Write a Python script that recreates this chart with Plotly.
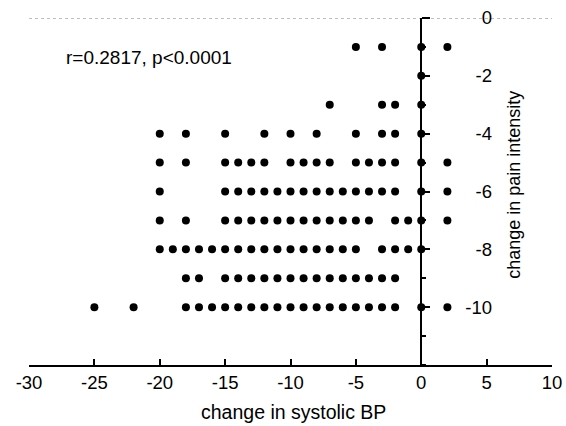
import plotly.graph_objects as go

# change in pain intensity (rows) and the change in systolic BP values observed at each
pain_levels = [-1, -2, -3, -4, -5, -6, -7, -8, -9, -10]
bp_row_m1 = [-5, -3, 0, 2]
bp_row_m2 = [0]
bp_row_m3 = [-7, -3, -2, 0]
bp_row_m4 = [-20, -18, -15, -12, -10, -8, -5, -3, -2, 0]
bp_row_m5 = [-20, -18, -15, -14, -13, -12, -10, -9, -8, -7, -5, -4, -3, -2, 0, 2]
bp_row_m6 = [-20, -15, -14, -13, -12, -11, -10, -9, -8, -7, -6, -5, -4, -3, -2, 0, 2]
bp_row_m7 = [-20, -18, -15, -14, -13, -12, -11, -10, -9, -8, -7, -6, -5, -4, -2, -1, 0, 2]
bp_row_m8 = [-20, -19, -18, -17, -16, -15, -14, -13, -12, -11, -10, -9, -8, -7, -6, -5, -3, -2, -1, 0]
bp_row_m9 = [-18, -17, -15, -14, -13, -12, -11, -10, -9, -8, -7, -6, -5, -4, -3, -2]
bp_row_m10 = [-25, -22, -18, -17, -16, -15, -14, -13, -12, -11, -10, -9, -8, -7, -6, -5, -4, -3, -2, 0, 2]
bp_rows = [bp_row_m1, bp_row_m2, bp_row_m3, bp_row_m4, bp_row_m5,
           bp_row_m6, bp_row_m7, bp_row_m8, bp_row_m9, bp_row_m10]

x_ticks = [-30, -25, -20, -15, -10, -5, 0, 5, 10]
x_tick_labels = ["-30", "-25", "-20", "-15", "-10", "-5", "0", "5", "10"]
y_ticks = [0, -2, -4, -6, -8, -10]
y_tick_labels = ["0", "-2", "-4", "-6", "-8", "-10"]
annotation_text = "r=0.2817, p<0.0001"

xs, ys = [], []
for pain, row in zip(pain_levels, bp_rows):
    for bp in row:
        xs.append(bp)
        ys.append(pain)

FONT = "Liberation Sans, Arial, sans-serif"
W, H = 566, 426
ml, mr, mt, mb = 28.7, 14, 18, 60.5
pw = W - ml - mr
ph = H - mt - mb

def px_x(p):
    return (p - ml) / pw

def px_y(p):
    return 1 - (p - mt) / ph

fig = go.Figure()
fig.add_trace(go.Scatter(
    x=xs, y=ys, mode="markers",
    marker=dict(color="black", size=8, line=dict(width=0)),
    showlegend=False, hoverinfo="x+y",
))

fig.update_layout(
    width=W, height=H, autosize=False,
    margin=dict(l=ml, r=mr, t=mt, b=mb, pad=0, autoexpand=False),
    paper_bgcolor="white", plot_bgcolor="white",
    font=dict(family=FONT, size=18, color="black"),
    xaxis=dict(
        range=[-30, 10], tickvals=x_ticks, ticktext=x_tick_labels,
        ticks="inside", ticklen=6, automargin=False,
        tickwidth=2, tickcolor="black", showline=True, linewidth=2,
        linecolor="black", showgrid=False, zeroline=False,
        tickfont=dict(size=18.5), fixedrange=True,
    ),
    yaxis=dict(
        range=[-12, 0], anchor="free", position=0.75, side="right",
        tickvals=y_ticks, ticks="outside", ticklen=8, tickwidth=2,
        tickcolor="black", showline=True, linewidth=2, linecolor="black",
        showgrid=False, zeroline=False, showticklabels=False,
        automargin=False,
        minor=dict(dtick=1, ticks="outside", ticklen=4, tickwidth=1.5,
                   tickcolor="black", showgrid=False),
        fixedrange=True,
    ),
    yaxis2=dict(
        range=[-12, 0], overlaying="y", anchor="free", position=px_x(492),
        side="left", tickvals=y_ticks, ticktext=y_tick_labels, ticks="",
        showline=False, showgrid=False, zeroline=False, automargin=False,
        tickfont=dict(size=18.5), fixedrange=True,
    ),
    shapes=[dict(type="line", xref="x", yref="y", x0=-30, x1=10, y0=0, y1=0,
                 line=dict(color="#808080", width=1, dash="dot"), layer="below")],
    annotations=[
        dict(text=annotation_text, xref="paper", yref="paper",
             x=px_x(64), y=px_y(58), xanchor="left", yanchor="middle",
             showarrow=False, font=dict(size=19)),
        dict(text="change in pain intensity", xref="paper", yref="paper",
             x=px_x(514), y=px_y(185), xanchor="center", yanchor="middle",
             textangle=-90, showarrow=False, font=dict(size=18)),
        dict(text="change in systolic BP", xref="paper", yref="paper",
             x=px_x(293), y=px_y(413), xanchor="center", yanchor="middle",
             showarrow=False, font=dict(size=19.5)),
    ],
)

# invisible helper so the label axis is rendered with the same scale
fig.add_trace(go.Scatter(x=[None], y=[None], yaxis="y2", showlegend=False,
                         hoverinfo="skip"))

fig.write_html("out.html")
